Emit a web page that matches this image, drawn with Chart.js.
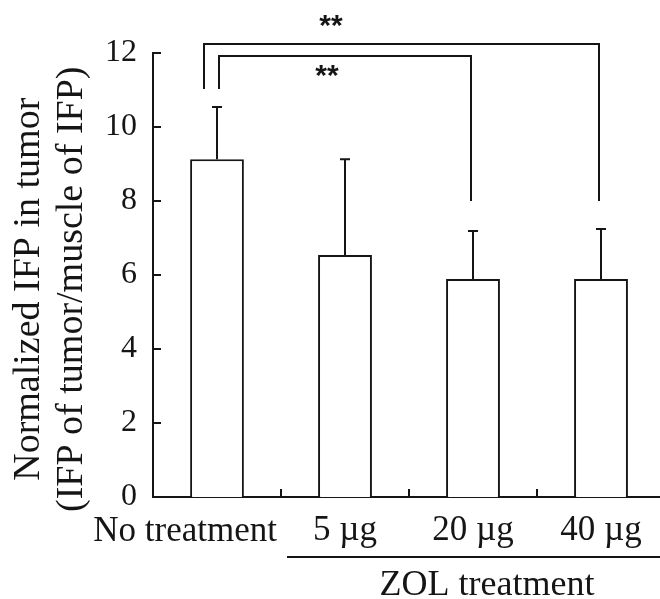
<!DOCTYPE html>
<html>
<head>
<meta charset="utf-8">
<script src="https://cdn.jsdelivr.net/npm/chart.js@4/dist/chart.umd.min.js"></script>
<style>
html,body{margin:0;padding:0;background:#fff;overflow:hidden;width:660px;height:599px;}
#wrap{width:670px;height:599px;}
</style>
</head>
<body>
<div id="wrap"><canvas id="c" width="670" height="599"></canvas></div>
<script>
// ---- data ----
const categories = ['No treatment', '5 \u00b5g', '20 \u00b5g', '40 \u00b5g'];
const meanIFP = [9.13, 6.54, 5.89, 5.89];
const sdIFP = [1.41, 2.59, 1.30, 1.35];
const yTicks = [0, 2, 4, 6, 8, 10, 12];
const groupLabel = 'ZOL treatment';
const sigLabels = ['**', '**'];
const yTitle = ['Normalized IFP in tumor', '(IFP of tumor/muscle of IFP)'];

const INK = '#151515';
const SERIF = "'Liberation Serif', 'Times New Roman', serif";
const PADR = '\u00a0\u00a0\u00a0'; // trailing space nudges the rotated title downward

const decor = {
  id: 'decor',
  afterDatasetsDraw(chart) {
    const ctx = chart.ctx;
    const xs = chart.scales.x, ys = chart.scales.y;
    const area = chart.chartArea;
    const meta = chart.getDatasetMeta(0);
    ctx.save();
    ctx.strokeStyle = INK;
    ctx.lineWidth = 2;
    ctx.lineCap = 'butt';
    // error bars
    meta.data.forEach((bar, i) => {
      const yb = ys.getPixelForValue(meanIFP[i]);
      const yt = ys.getPixelForValue(meanIFP[i] + sdIFP[i]);
      ctx.beginPath();
      ctx.moveTo(bar.x, yb); ctx.lineTo(bar.x, yt);
      ctx.moveTo(bar.x - 5, yt); ctx.lineTo(bar.x + 5, yt);
      ctx.stroke();
    });
    // y inward ticks
    yTicks.forEach(v => {
      const y = Math.round(ys.getPixelForValue(v));
      ctx.beginPath();
      ctx.moveTo(area.left, y); ctx.lineTo(area.left + 8, y);
      ctx.stroke();
    });
    // x inward ticks at category boundaries
    for (let i = 0; i < categories.length - 1; i++) {
      const x = Math.round((xs.getPixelForValue(i) + xs.getPixelForValue(i + 1)) / 2);
      ctx.beginPath();
      ctx.moveTo(x, area.bottom); ctx.lineTo(x, area.bottom - 8);
      ctx.stroke();
    }
    // significance brackets
    const x0 = xs.getPixelForValue(0), x2 = xs.getPixelForValue(2), x3 = xs.getPixelForValue(3);
    const yLegL = ys.getPixelForValue(11.03), yLegR = ys.getPixelForValue(8.0);
    const yOuter = ys.getPixelForValue(12.24), yInner = ys.getPixelForValue(11.92);
    ctx.beginPath();
    ctx.moveTo(x0 - 13, yLegL); ctx.lineTo(x0 - 13, yOuter); ctx.lineTo(x3 - 2, yOuter); ctx.lineTo(x3 - 2, yLegR);
    ctx.moveTo(x0 + 2, yLegL); ctx.lineTo(x0 + 2, yInner); ctx.lineTo(x2 - 2, yInner); ctx.lineTo(x2 - 2, yLegR);
    ctx.stroke();
    ctx.fillStyle = INK;
    ctx.font = "bold 30px 'Liberation Sans', Arial, sans-serif";
    ctx.textAlign = 'center';
    ctx.textBaseline = 'middle';
    ctx.fillText(sigLabels[0], x0 + 114, ys.getPixelForValue(12.86) + 6);
    ctx.fillText(sigLabels[1], x0 + 110, ys.getPixelForValue(11.51) + 6);

    // category labels
    ctx.font = '35px ' + SERIF;
    ctx.textBaseline = 'alphabetic';
    categories.forEach((lab, i) => {
      const x = xs.getPixelForValue(i);
      if (i === 0) { ctx.textAlign = 'right'; ctx.fillText(lab, x + 60, 541); }
      else { ctx.textAlign = 'center'; ctx.fillText(lab, x, 540); }
    });
    // group line and label
    const bx = (xs.getPixelForValue(0) + xs.getPixelForValue(1)) / 2;
    ctx.beginPath();
    ctx.moveTo(bx + 6, 557); ctx.lineTo(chart.width, 557);
    ctx.stroke();
    ctx.textAlign = 'center';
    ctx.font = '36px ' + SERIF;
    ctx.fillText(groupLabel, x2 + 14, 595);
    ctx.restore();
  }
};

new Chart(document.getElementById('c'), {
  type: 'bar',
  data: {
    labels: categories,
    datasets: [{
      data: meanIFP,
      backgroundColor: '#ffffff',
      borderColor: INK,
      borderWidth: 2,
      barPercentage: 0.42,
      categoryPercentage: 1.0
    }]
  },
  options: {
    responsive: false,
    devicePixelRatio: 1,
    animation: false,
    layout: { padding: { top: 53, bottom: 102, left: 0, right: 5 } },
    plugins: { legend: { display: false }, tooltip: { enabled: false } },
    scales: {
      x: {
        grid: { display: false, drawTicks: false },
        border: { display: true, color: INK, width: 2 },
        ticks: { display: false }
      },
      y: {
        min: 0, max: 12,
        afterFit(s) { s.width = 153; },
        afterBuildTicks(s) { s.ticks = yTicks.map(v => ({ value: v })); },
        grid: { display: false, drawTicks: false },
        border: { display: true, color: INK, width: 2 },
        ticks: { font: { family: SERIF, size: 32 }, color: INK, padding: 16 },
        title: {
          display: true,
          text: yTitle.map(t => t + PADR),
          font: { family: SERIF, size: 38, lineHeight: 1.12 },
          color: INK,
          padding: { top: 8, bottom: 0 }
        }
      }
    }
  },
  plugins: [decor]
});
</script>
</body>
</html>
